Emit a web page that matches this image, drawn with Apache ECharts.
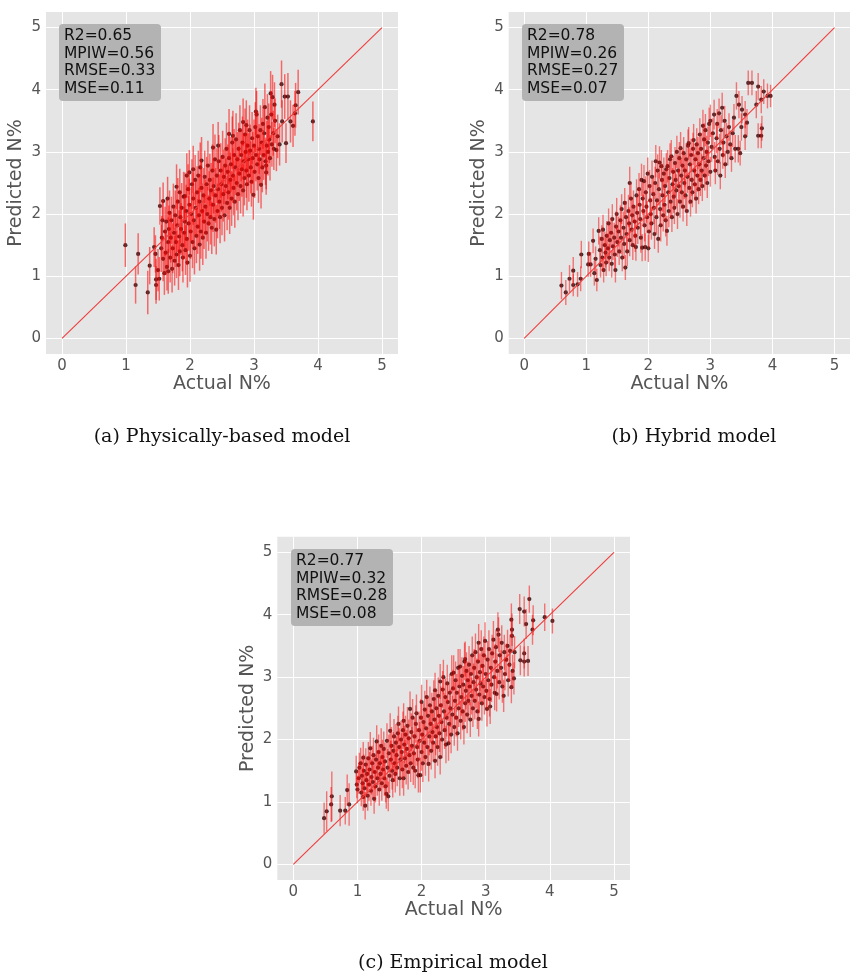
<!DOCTYPE html>
<html>
<head>
<meta charset="utf-8">
<script src="https://cdn.jsdelivr.net/npm/echarts@6/dist/echarts.min.js"></script>
<style>
html,body{margin:0;padding:0;background:#fff;}
#chart{width:850px;height:979px;}
</style>
</head>
<body>
<div id="chart"></div>
<script>
// ---- data: [actual, predicted, half-width of prediction interval] ----
const pointsA = [
[0.99,1.50,0.35],[1.15,0.86,0.30],[1.19,1.36,0.33],[1.34,0.74,0.35],[1.37,1.17,0.30],[1.44,1.47,0.32],[1.46,1.36,0.30],[1.47,0.86,0.30],[1.47,0.95,0.33],[1.52,0.96,0.35],[1.50,1.10,0.34],
[1.53,2.13,0.30],[1.55,1.45,0.38],[1.56,1.62,0.35],[1.57,1.90,0.33],[1.58,2.21,0.30],[1.58,1.28,0.36],[1.60,1.05,0.35],[1.61,1.72,0.40],[1.62,1.38,0.36],[1.63,1.88,0.36],[1.64,1.15,0.38],[1.65,2.25,0.35],[1.66,1.08,0.36],[1.66,1.55,0.40],[1.67,1.76,0.38],[1.68,2.02,0.36],[1.69,1.30,0.40],[1.70,1.62,0.40],
[1.71,1.90,0.38],[1.72,1.12,0.38],[1.73,1.45,0.40],[1.74,2.12,0.37],[1.75,1.70,0.42],[1.76,1.25,0.40],[1.77,1.98,0.40],[1.78,1.55,0.40],[1.79,2.44,0.36],[1.79,1.35,0.38],[1.80,1.82,0.42],[1.81,2.20,0.38],[1.82,1.18,0.40],[1.83,1.64,0.42],[1.84,2.35,0.38],[1.84,1.40,0.40],[1.85,1.95,0.42],[1.86,1.76,0.42],[1.87,2.10,0.40],[1.88,1.50,0.42],[1.89,1.30,0.40],[1.90,2.28,0.40],
[1.91,1.70,0.42],[1.92,2.29,0.38],[1.92,1.88,0.42],[1.93,1.42,0.40],[1.94,2.05,0.42],[1.95,2.62,0.36],[1.95,1.60,0.42],[1.96,1.22,0.40],[1.97,2.40,0.40],[1.98,1.85,0.44],[1.99,2.67,0.36],[1.99,2.15,0.42],[2.00,1.33,0.42],[2.01,1.72,0.44],[2.02,2.00,0.44],[2.03,2.48,0.40],[2.04,1.55,0.42],[2.05,2.72,0.38],[2.05,2.25,0.42],[2.06,1.90,0.44],[2.07,1.45,0.42],[2.08,2.55,0.40],[2.09,2.10,0.44],[2.10,1.65,0.44],
[2.11,2.35,0.42],[2.12,1.80,0.44],[2.13,2.62,0.40],[2.14,1.98,0.44],[2.15,1.51,0.42],[2.15,2.20,0.44],[2.16,2.75,0.40],[2.17,1.72,0.44],[2.18,2.86,0.38],[2.18,2.42,0.42],[2.19,2.05,0.44],[2.20,1.62,0.44],[2.21,2.30,0.44],[2.22,1.88,0.44],[2.23,2.60,0.42],[2.24,2.12,0.44],[2.25,1.70,0.42],[2.26,2.48,0.44],[2.27,2.00,0.44],[2.28,2.78,0.40],[2.29,1.85,0.44],[2.30,2.25,0.44],
[2.31,2.55,0.42],[2.32,1.95,0.44],[2.33,2.38,0.44],[2.34,1.78,0.42],[2.35,2.70,0.42],[2.36,3.07,0.38],[2.36,2.15,0.44],[2.37,2.45,0.44],[2.38,1.92,0.44],[2.39,2.88,0.40],[2.40,2.30,0.44],[2.41,1.75,0.40],[2.42,2.62,0.44],[2.43,2.05,0.44],[2.44,3.10,0.38],[2.44,2.40,0.44],[2.45,2.85,0.42],[2.46,2.20,0.44],[2.47,1.95,0.42],[2.48,2.70,0.44],[2.49,2.48,0.44],[2.50,2.10,0.44],
[2.51,2.92,0.42],[2.52,2.32,0.44],[2.53,2.60,0.44],[2.54,1.98,0.42],[2.55,2.78,0.44],[2.56,2.45,0.44],[2.57,3.05,0.42],[2.58,2.18,0.44],[2.59,2.68,0.44],[2.60,2.35,0.44],[2.61,3.29,0.40],[2.61,2.90,0.42],[2.62,2.10,0.42],[2.63,2.55,0.44],[2.64,2.80,0.44],[2.65,2.25,0.44],[2.66,3.15,0.42],[2.67,3.26,0.40],[2.67,2.62,0.44],[2.68,2.42,0.44],[2.69,2.95,0.42],[2.70,2.20,0.42],
[2.71,2.75,0.44],[2.72,3.20,0.42],[2.73,2.50,0.44],[2.74,2.88,0.44],[2.75,2.32,0.42],[2.76,3.05,0.42],[2.77,2.65,0.44],[2.78,3.35,0.40],[2.79,2.45,0.44],[2.80,2.95,0.42],[2.81,2.72,0.44],[2.82,3.15,0.42],[2.83,3.48,0.38],[2.83,2.38,0.42],[2.84,2.85,0.44],[2.85,2.58,0.44],[2.86,3.28,0.42],[2.87,3.00,0.42],[2.88,3.43,0.40],[2.88,2.70,0.44],[2.89,2.48,0.42],[2.90,3.10,0.42],
[2.91,2.88,0.42],[2.92,2.62,0.42],[2.93,3.35,0.40],[2.94,3.02,0.42],[2.95,2.75,0.42],[2.96,2.52,0.40],[2.97,3.22,0.42],[2.98,2.90,0.42],[2.99,2.31,0.40],[3.00,3.10,0.42],[3.01,2.68,0.42],[3.02,3.40,0.40],[3.03,3.65,0.38],[3.03,2.95,0.42],[3.04,3.60,0.38],[3.05,2.80,0.42],[3.06,3.25,0.40],[3.07,2.58,0.40],[3.08,3.05,0.40],[3.09,2.88,0.40],[3.10,3.35,0.40],[3.11,2.47,0.38],
[3.12,3.15,0.40],[3.13,2.75,0.40],[3.14,3.45,0.40],[3.15,2.95,0.40],[3.16,3.30,0.40],[3.17,3.72,0.38],[3.18,2.85,0.38],[3.19,2.67,0.36],[3.19,2.78,0.38],[3.20,3.10,0.40],[3.21,3.55,0.38],[3.22,3.00,0.38],[3.23,3.40,0.38],[3.24,3.20,0.38],[3.25,2.90,0.36],[3.26,3.94,0.36],[3.27,3.60,0.38],[3.28,3.12,0.36],[3.29,3.88,0.36],[3.30,3.30,0.36],[3.31,3.05,0.34],[3.32,3.76,0.36],[3.33,3.50,0.36],
[3.35,3.03,0.34],[3.37,3.25,0.35],[3.40,3.12,0.34],[3.43,4.09,0.38],[3.44,3.49,0.34],[3.48,3.89,0.36],[3.50,3.14,0.32],[3.53,3.89,0.38],[3.57,3.49,0.34],[3.61,3.42,0.34],[3.64,3.62,0.36],[3.65,3.75,0.36],[3.69,3.96,0.36],[3.92,3.49,0.32]
];

const pointsB = [
[0.60,0.85,0.22],[0.67,0.74,0.20],[0.73,0.96,0.22],[0.79,1.09,0.22],[0.79,0.86,0.18],[0.86,0.87,0.20],[0.91,0.96,0.20],[0.92,1.35,0.22],[1.03,1.19,0.20],[1.04,1.36,0.20],[1.07,1.19,0.20],[1.11,1.57,0.20],[1.13,1.05,0.20],[1.17,0.94,0.18],[1.20,1.73,0.22],[1.15,1.28,0.20],
[1.22,1.42,0.22],[1.23,1.18,0.20],[1.25,1.60,0.22],[1.26,1.30,0.22],[1.27,1.75,0.24],[1.28,1.10,0.20],[1.30,1.50,0.22],[1.31,1.38,0.24],[1.32,1.22,0.22],[1.33,1.65,0.24],[1.35,1.45,0.24],[1.36,1.85,0.24],[1.37,1.30,0.22],[1.38,1.58,0.24],[1.40,1.70,0.24],[1.41,1.20,0.22],[1.42,1.92,0.24],[1.43,1.48,0.22],[1.45,1.62,0.24],[1.46,1.35,0.22],[1.47,1.10,0.20],[1.48,1.80,0.24],[1.49,2.00,0.26],
[1.50,1.55,0.24],[1.52,1.72,0.24],[1.53,1.40,0.22],[1.55,1.90,0.24],[1.56,1.62,0.26],[1.57,2.08,0.24],[1.58,1.30,0.22],[1.60,1.78,0.26],[1.61,1.52,0.24],[1.62,2.18,0.24],[1.63,1.14,0.20],[1.64,1.95,0.26],[1.65,1.68,0.26],[1.66,1.40,0.24],[1.68,2.05,0.26],[1.69,1.85,0.26],[1.70,2.50,0.26],[1.70,1.58,0.26],[1.72,2.25,0.26],[1.73,1.75,0.26],[1.74,1.98,0.26],[1.75,1.50,0.24],[1.76,2.12,0.26],[1.78,1.88,0.26],[1.79,1.65,0.26],[1.80,1.47,0.22],
[1.81,2.30,0.26],[1.82,2.02,0.26],[1.83,1.78,0.26],[1.85,2.40,0.26],[1.86,2.15,0.26],[1.87,1.92,0.26],[1.88,1.62,0.24],[1.89,2.55,0.26],[1.90,1.46,0.22],[1.91,2.25,0.26],[1.92,2.05,0.26],[1.93,2.53,0.26],[1.94,1.82,0.26],[1.95,1.47,0.22],[1.96,2.35,0.26],[1.97,2.12,0.26],[1.98,1.95,0.26],[1.99,2.65,0.26],[2.00,1.45,0.22],[2.01,1.72,0.26],[2.02,2.45,0.26],[2.03,2.22,0.26],[2.04,2.00,0.26],[2.05,1.85,0.26],[2.06,2.60,0.26],[2.08,2.32,0.26],[2.09,2.10,0.26],[2.10,1.68,0.24],
[2.11,2.50,0.26],[2.12,2.85,0.26],[2.13,1.95,0.26],[2.14,2.22,0.26],[2.15,2.70,0.26],[2.16,1.60,0.22],[2.17,2.40,0.26],[2.18,2.83,0.26],[2.19,2.08,0.26],[2.20,1.82,0.26],[2.21,2.77,0.26],[2.22,2.55,0.26],[2.23,2.30,0.26],[2.24,1.98,0.26],[2.25,2.65,0.26],[2.26,2.15,0.26],[2.27,2.45,0.26],[2.28,1.90,0.26],[2.29,2.72,0.26],[2.30,1.73,0.24],[2.31,2.77,0.26],[2.32,2.35,0.26],[2.33,2.05,0.26],[2.34,2.58,0.26],[2.35,2.88,0.26],[2.36,2.20,0.26],[2.37,2.93,0.26],[2.38,1.95,0.24],[2.39,2.48,0.26],[2.40,2.68,0.26],
[2.41,2.28,0.26],[2.42,2.10,0.26],[2.43,2.82,0.26],[2.44,2.55,0.26],[2.45,2.38,0.26],[2.46,3.00,0.26],[2.47,2.00,0.24],[2.48,2.70,0.26],[2.49,2.45,0.26],[2.50,2.90,0.26],[2.51,2.20,0.26],[2.52,3.06,0.26],[2.53,2.62,0.26],[2.54,2.35,0.26],[2.55,2.78,0.26],[2.56,2.12,0.24],[2.57,2.98,0.26],[2.58,2.50,0.26],[2.59,2.70,0.26],[2.60,2.30,0.26],[2.61,2.88,0.26],[2.62,2.05,0.24],[2.63,2.60,0.26],[2.64,3.10,0.26],[2.65,3.14,0.26],[2.66,2.42,0.26],[2.67,2.80,0.26],[2.68,2.20,0.24],[2.69,2.95,0.26],[2.70,2.55,0.26],
[2.71,2.35,0.24],[2.72,3.05,0.26],[2.73,3.19,0.26],[2.74,2.70,0.26],[2.75,2.48,0.26],[2.76,2.88,0.26],[2.77,2.25,0.24],[2.78,3.12,0.26],[2.79,2.62,0.26],[2.80,2.98,0.26],[2.81,2.40,0.24],[2.82,2.80,0.26],[2.83,3.28,0.26],[2.84,2.55,0.26],[2.85,3.05,0.26],[2.86,2.70,0.26],[2.87,2.45,0.24],[2.88,3.42,0.26],[2.89,2.90,0.26],[2.90,3.20,0.26],[2.91,2.62,0.24],[2.92,3.35,0.26],[2.93,2.78,0.26],[2.94,3.00,0.26],[2.95,2.50,0.24],[2.96,3.15,0.26],[2.97,2.85,0.24],[2.98,3.45,0.26],[3.00,3.50,0.26],[3.00,2.68,0.24],
[3.02,3.08,0.24],[3.04,3.30,0.24],[3.06,3.60,0.24],[3.07,2.92,0.24],[3.08,2.70,0.22],[3.10,3.22,0.24],[3.11,3.45,0.24],[3.12,2.85,0.22],[3.14,3.62,0.24],[3.15,3.05,0.24],[3.16,2.62,0.22],[3.17,3.35,0.24],[3.19,3.71,0.24],[3.20,2.95,0.22],[3.21,3.15,0.24],[3.23,3.50,0.24],[3.24,2.80,0.22],[3.26,3.25,0.22],[3.28,3.00,0.22],[3.30,3.40,0.22],[3.32,3.12,0.22],[3.34,2.90,0.22],[3.36,3.30,0.22],[3.38,3.55,0.22],[3.40,3.05,0.22],[3.42,3.90,0.22],[3.45,3.05,0.22],[3.46,3.76,0.22],[3.48,2.98,0.20],[3.50,3.40,0.22],
[3.51,3.68,0.22],[3.56,3.60,0.22],[3.56,3.25,0.22],[3.59,3.47,0.22],[3.61,4.11,0.20],[3.67,4.11,0.20],[3.74,3.76,0.22],[3.77,4.05,0.22],[3.77,3.26,0.20],[3.82,3.84,0.22],[3.82,3.26,0.20],[3.83,3.38,0.20],[3.86,3.97,0.20],[3.92,3.90,0.20],[3.97,3.90,0.18]
];

const pointsC = [
[0.48,0.74,0.25],[0.52,0.85,0.32],[0.59,0.96,0.28],[0.60,1.09,0.40],[0.73,0.86,0.25],[0.81,0.86,0.22],[0.84,1.19,0.25],[0.87,0.96,0.34],
[0.98,1.49,0.25],[0.99,1.28,0.22],[1.00,1.20,0.22],[1.02,1.38,0.25],[1.03,1.55,0.24],[1.05,1.62,0.25],[1.06,1.15,0.22],[1.07,1.42,0.26],[1.08,1.30,0.24],[1.09,1.08,0.22],[1.09,1.71,0.25],[1.10,1.50,0.26],[1.11,1.22,0.24],[1.12,0.94,0.22],[1.13,1.60,0.26],[1.14,1.35,0.26],[1.15,1.45,0.28],[1.16,1.10,0.24],[1.17,1.70,0.26],[1.18,1.28,0.26],[1.19,1.52,0.28],[1.20,1.86,0.26],[1.21,1.18,0.24],[1.22,1.40,0.28],[1.23,1.62,0.28],[1.24,1.32,0.26],[1.25,1.75,0.28],[1.26,1.05,0.24],[1.27,1.48,0.28],[1.28,1.25,0.26],[1.29,1.68,0.28],[1.30,1.97,0.26],
[1.31,1.38,0.28],[1.32,1.55,0.28],[1.33,1.80,0.28],[1.34,1.20,0.26],[1.35,1.62,0.30],[1.36,1.45,0.28],[1.37,1.90,0.28],[1.38,1.30,0.28],[1.39,1.72,0.28],[1.40,1.52,0.30],[1.41,1.85,0.28],[1.42,1.38,0.28],[1.43,1.65,0.30],[1.44,1.25,0.26],[1.45,1.13,0.24],[1.46,1.98,0.28],[1.47,1.55,0.30],[1.48,1.09,0.24],[1.49,1.78,0.30],[1.50,1.42,0.28],[1.51,2.14,0.28],[1.52,1.68,0.30],[1.53,1.90,0.30],[1.54,1.50,0.30],[1.55,1.35,0.28],[1.56,1.82,0.30],[1.57,2.05,0.28],[1.58,1.62,0.30],[1.59,1.45,0.30],[1.60,1.95,0.30],
[1.61,1.75,0.30],[1.62,1.55,0.30],[1.63,2.10,0.28],[1.64,2.25,0.28],[1.65,1.88,0.30],[1.66,1.38,0.28],[1.67,1.68,0.30],[1.68,2.00,0.30],[1.69,1.80,0.30],[1.70,1.52,0.30],[1.71,2.15,0.30],[1.72,2.30,0.28],[1.72,1.38,0.28],[1.73,1.92,0.30],[1.74,1.70,0.30],[1.75,2.08,0.30],[1.76,1.58,0.30],[1.77,1.85,0.30],[1.78,2.22,0.30],[1.79,1.48,0.28],[1.80,2.02,0.30],[1.81,1.75,0.30],[1.82,2.49,0.28],[1.83,1.62,0.30],[1.84,2.12,0.30],[1.85,1.90,0.30],[1.86,2.35,0.30],[1.87,1.55,0.28],[1.88,1.78,0.30],[1.89,2.05,0.30],[1.90,1.50,0.28],
[1.91,2.25,0.30],[1.92,2.42,0.30],[1.93,1.88,0.30],[1.94,1.68,0.30],[1.95,1.43,0.28],[1.96,2.15,0.30],[1.97,1.98,0.30],[1.98,1.43,0.28],[1.99,2.35,0.30],[2.00,2.60,0.28],[2.00,1.80,0.30],[2.01,2.08,0.30],[2.02,1.62,0.30],[2.03,2.28,0.30],[2.04,1.95,0.30],[2.05,2.48,0.30],[2.06,1.72,0.30],[2.07,2.18,0.30],[2.08,2.68,0.28],[2.09,1.88,0.30],[2.10,2.38,0.30],[2.11,1.61,0.28],[2.12,2.05,0.30],[2.13,2.55,0.30],[2.14,2.25,0.30],[2.15,1.82,0.30],[2.16,2.45,0.30],[2.17,2.12,0.30],[2.18,1.95,0.30],[2.19,2.65,0.30],[2.20,2.32,0.30],
[2.21,1.66,0.28],[2.21,2.79,0.28],[2.22,2.05,0.30],[2.23,2.50,0.30],[2.24,2.20,0.30],[2.25,1.88,0.30],[2.26,2.70,0.30],[2.27,2.38,0.30],[2.28,2.10,0.30],[2.29,1.72,0.28],[2.29,2.93,0.28],[2.30,2.55,0.30],[2.31,2.28,0.30],[2.32,2.00,0.30],[2.33,2.80,0.30],[2.34,3.00,0.28],[2.35,2.45,0.30],[2.36,2.15,0.30],[2.37,2.68,0.30],[2.38,1.92,0.30],[2.39,2.35,0.30],[2.40,2.90,0.30],[2.41,2.60,0.30],[2.42,1.94,0.28],[2.43,2.25,0.30],[2.44,2.75,0.30],[2.45,2.50,0.30],[2.46,2.08,0.30],[2.47,3.05,0.30],[2.48,2.40,0.30],[2.49,2.82,0.30],[2.50,3.07,0.28],
[2.51,2.20,0.30],[2.52,2.62,0.30],[2.53,2.95,0.30],[2.54,2.35,0.30],[2.55,2.75,0.30],[2.56,2.10,0.28],[2.57,3.15,0.30],[2.58,2.50,0.30],[2.59,2.85,0.30],[2.60,3.17,0.28],[2.61,2.30,0.30],[2.62,2.68,0.30],[2.63,3.02,0.30],[2.64,2.45,0.30],[2.65,2.88,0.30],[2.66,2.20,0.28],[2.67,3.25,0.30],[2.68,3.29,0.28],[2.68,2.58,0.30],[2.69,2.78,0.30],[2.70,3.10,0.30],[2.71,2.40,0.30],[2.72,2.95,0.30],[2.73,2.62,0.30],[2.74,3.20,0.30],[2.75,2.85,0.30],[2.76,2.32,0.28],[2.77,3.05,0.30],[2.78,2.70,0.30],[2.79,3.35,0.30],[2.80,2.50,0.30],
[2.81,2.92,0.30],[2.82,3.15,0.30],[2.83,2.62,0.30],[2.84,3.40,0.30],[2.85,2.80,0.30],[2.86,3.00,0.30],[2.87,2.45,0.28],[2.88,3.25,0.30],[2.89,2.33,0.28],[2.89,3.55,0.30],[2.90,2.72,0.30],[2.91,3.08,0.30],[2.92,2.90,0.30],[2.93,3.45,0.30],[2.94,2.58,0.28],[2.95,3.18,0.30],[2.96,2.85,0.30],[2.97,3.35,0.30],[2.98,2.68,0.28],[2.99,3.58,0.30],[3.00,3.05,0.30],[3.01,2.78,0.28],[3.02,2.49,0.28],[3.03,3.28,0.30],[3.04,2.95,0.30],[3.05,3.45,0.30],[3.06,2.65,0.28],[3.07,2.53,0.28],[3.08,3.15,0.30],[3.09,2.88,0.28],[3.10,3.38,0.30],
[3.12,3.60,0.30],[3.13,3.00,0.28],[3.14,2.75,0.28],[3.15,3.25,0.28],[3.16,3.48,0.28],[3.17,2.73,0.28],[3.18,3.10,0.28],[3.19,3.76,0.28],[3.20,3.68,0.28],[3.21,2.92,0.28],[3.22,3.35,0.28],[3.24,3.15,0.28],[3.25,3.55,0.28],[3.26,2.85,0.26],[3.28,2.70,0.26],[3.29,3.40,0.28],[3.30,3.05,0.26],[3.32,3.28,0.26],[3.34,3.50,0.26],[3.35,2.95,0.26],[3.37,3.20,0.26],[3.38,3.42,0.26],[3.40,2.84,0.26],[3.40,3.92,0.26],[3.41,3.76,0.26],[3.41,3.66,0.26],[3.42,3.10,0.26],[3.44,2.98,0.26],[3.45,3.40,0.26],
[3.53,4.09,0.24],[3.54,3.27,0.24],[3.60,4.05,0.24],[3.60,3.38,0.24],[3.60,3.25,0.24],[3.63,3.85,0.24],[3.66,3.26,0.24],[3.68,4.25,0.22],[3.73,3.76,0.24],[3.74,3.91,0.24],[3.92,3.96,0.22],[4.04,3.90,0.20]
];

const tickValues = [0, 1, 2, 3, 4, 5];
const identityLine = [[0, 0], [5, 5]];
const statsA = ['R2=0.65', 'MPIW=0.56', 'RMSE=0.33', 'MSE=0.11'];
const statsB = ['R2=0.78', 'MPIW=0.26', 'RMSE=0.27', 'MSE=0.07'];
const statsC = ['R2=0.77', 'MPIW=0.32', 'RMSE=0.28', 'MSE=0.08'];
const captions = ['(a) Physically-based model', '(b) Hybrid model', '(c) Empirical model'];
const xName = 'Actual N%';
const yName = 'Predicted N%';

// ---- layout ----
const panels = [
  { pts: pointsA, stats: statsA, grid: { left: 46, top: 12, width: 352, height: 342 }, box: [59, 24], cap: [222, 437], barAlpha: 0.55, barW: 1.5 },
  { pts: pointsB, stats: statsB, grid: { left: 508.7, top: 12, width: 353, height: 342 }, box: [522, 24], cap: [694, 437], barAlpha: 0.5, barW: 1.4 },
  { pts: pointsC, stats: statsC, grid: { left: 277.3, top: 536.7, width: 352.7, height: 343.3 }, box: [291, 549], cap: [453, 963], barAlpha: 0.5, barW: 1.4 }
];

const FONT = 'DejaVu Sans';
const grids = [], xAxes = [], yAxes = [], series = [], graphics = [];

panels.forEach((p, i) => {
  grids.push(Object.assign({ show: true, backgroundColor: '#e5e5e5', borderWidth: 0, containLabel: false }, p.grid));
  const axisCommon = {
    type: 'value', min: -0.25, max: 5.25, gridIndex: i,
    axisLine: { show: false },
    axisTick: { show: false, customValues: tickValues },
    splitLine: { show: true, lineStyle: { color: '#ffffff', width: 1 } },
    nameLocation: 'middle',
    nameTextStyle: { fontFamily: FONT, fontSize: 19, color: '#555555' }
  };
  xAxes.push(Object.assign({}, axisCommon, {
    name: xName, nameGap: 20,
    axisLabel: { customValues: tickValues, fontFamily: FONT, fontSize: 15, color: '#555555', margin: 5 }
  }));
  yAxes.push(Object.assign({}, axisCommon, {
    name: yName, nameGap: 20,
    axisLabel: { customValues: tickValues, fontFamily: FONT, fontSize: 15, color: '#555555', margin: 5 }
  }));

  const barColor = 'rgba(255,0,0,' + p.barAlpha + ')';
  series.push({
    type: 'scatter', xAxisIndex: i, yAxisIndex: i, data: p.pts, z: 2,
    encode: { x: 0, y: 1 },
    symbolSize: 4.2, itemStyle: { color: '#120404' }
  });
  series.push({
    type: 'custom', xAxisIndex: i, yAxisIndex: i, data: p.pts, clip: true, z: 3,
    encode: { x: 0, y: 1 },
    renderItem: function (params, api) {
      const x = api.value(0), y = api.value(1), e = api.value(2);
      const a = api.coord([x, y - e]);
      const b = api.coord([x, y + e]);
      return { type: 'line', shape: { x1: a[0], y1: a[1], x2: b[0], y2: b[1] },
        style: { stroke: barColor, lineWidth: p.barW } };
    }
  });
  series.push({
    type: 'line', xAxisIndex: i, yAxisIndex: i, data: identityLine, symbol: 'none', z: 4,
    lineStyle: { color: '#f03c3c', width: 1.1 }, silent: true
  });

  graphics.push({
    type: 'group', left: p.box[0], top: p.box[1], z: 100,
    children: [
      { type: 'rect', z: 100, shape: { x: 0, y: 0, width: 102, height: 77, r: 4 }, style: { fill: '#b3b3b3' } },
      { type: 'text', z: 101, x: 5, y: 3, style: { text: p.stats.join('\n'), fontFamily: FONT, fontSize: 15.5, fill: '#111111', lineHeight: 17.7 } }
    ]
  });
  graphics.push({
    type: 'text', x: p.cap[0], y: p.cap[1], z: 100,
    style: { text: captions[i], fontFamily: 'DejaVu Serif', fontSize: 19, fill: '#111111', align: 'center', verticalAlign: 'middle' }
  });
});

const chart = echarts.init(document.getElementById('chart'), null, { renderer: 'canvas' });
chart.setOption({
  animation: false,
  backgroundColor: '#ffffff',
  grid: grids, xAxis: xAxes, yAxis: yAxes, series: series, graphic: graphics
});
</script>
</body>
</html>
